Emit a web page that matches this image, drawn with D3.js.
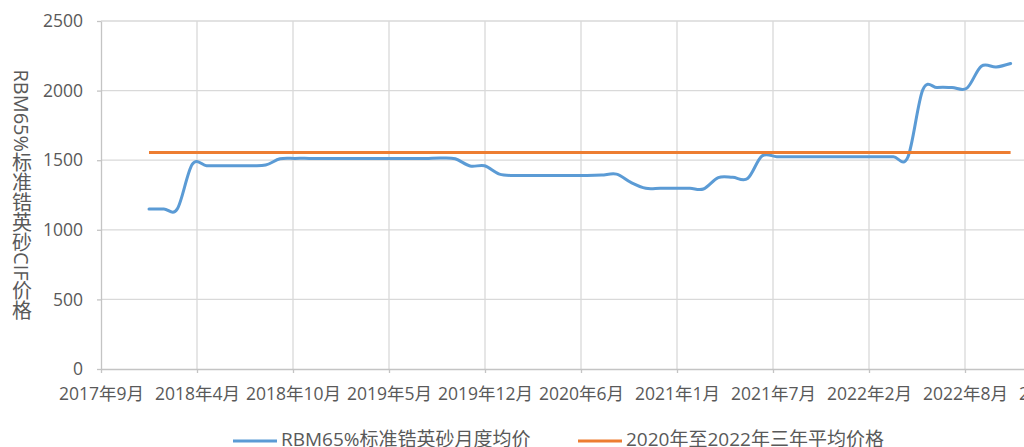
<!DOCTYPE html>
<html>
<head>
<meta charset="utf-8">
<script src="https://cdn.jsdelivr.net/npm/d3@7"></script>
<style>
  body { margin: 0; background: #fff; }
  text { font-family: "Open Sans", "Noto Sans CJK SC", sans-serif; fill: #595959; }
</style>
</head>
<body>
<div id="chart"></div>
<script>
// DATA
const months = [
  '2018-01','2018-02','2018-03','2018-04','2018-05','2018-06','2018-07','2018-08','2018-09','2018-10','2018-11','2018-12',
  '2019-01','2019-02','2019-03','2019-04','2019-05','2019-06','2019-07','2019-08','2019-09','2019-10','2019-11','2019-12',
  '2020-01','2020-02','2020-03','2020-04','2020-05','2020-06','2020-07','2020-08','2020-09','2020-10','2020-11','2020-12',
  '2021-01','2021-02','2021-03','2021-04','2021-05','2021-06','2021-07','2021-08','2021-09','2021-10','2021-11','2021-12',
  '2022-01','2022-02','2022-03','2022-04','2022-05','2022-06','2022-07','2022-08','2022-09','2022-10','2022-11','2022-12'
];
const monthlyPrice = [
  1150, 1150, 1150, 1470, 1460, 1460, 1460, 1460, 1465, 1510, 1513, 1513,
  1513, 1513, 1513, 1513, 1513, 1513, 1513, 1513, 1516, 1510, 1458, 1460,
  1400, 1390, 1390, 1390, 1390, 1390, 1390, 1393, 1400, 1340, 1298, 1298,
  1298, 1298, 1293, 1375, 1377, 1368, 1530, 1525, 1525, 1525, 1525, 1525,
  1525, 1525, 1525, 1525, 1522, 2005, 2022, 2022, 2018, 2175, 2170, 2195
];
const avgPrice = 1555;
const seriesNames = ['RBM65%标准锆英砂月度均价', '2020年至2022年三年平均价格'];
const yTicks = [0, 500, 1000, 1500, 2000, 2500];
const xTickDates = [
  '2017-09-23','2018-04-11','2018-10-28','2019-05-16','2019-12-02','2020-06-19',
  '2021-01-05','2021-07-24','2022-02-09','2022-08-28','2023-03-16'
];
const yTitle = 'RBM65%标准锆英砂CIF价格';

// GLOBALS AND CONSTANTS
const width = 1024;
const height = 447;
const margin = { top: 21, left: 101, bottom: 78 };
const colors = ['#5b9bd5', '#ed7d31'];

const parseMonth = d3.utcParse('%Y-%m');
const parseDay = d3.utcParse('%Y-%m-%d');
const data = months.map((m, i) => ({ date: parseMonth(m), value: monthlyPrice[i] }));
const ticks = xTickDates.map(parseDay);

const svg = d3.select('#chart').append('svg')
  .attr('width', width)
  .attr('height', height);

// x axis is a date axis, 200 days per major unit
const xScale = d3.scaleUtc()
  .domain([ticks[0], ticks[ticks.length - 1]])
  .range([margin.left, margin.left + 960]);

const yScale = d3.scaleLinear()
  .domain([0, 2500])
  .range([height - margin.bottom, margin.top]);

// GRID
svg.append('g')
  .selectAll('line')
  .data(yTicks.slice(1))
  .join('line')
  .attr('x1', margin.left).attr('x2', xScale.range()[1])
  .attr('y1', d => yScale(d)).attr('y2', d => yScale(d))
  .attr('stroke', '#d9d9d9').attr('stroke-width', 1.3);

svg.append('g')
  .selectAll('line')
  .data(ticks.slice(1))
  .join('line')
  .attr('x1', d => xScale(d)).attr('x2', d => xScale(d))
  .attr('y1', yScale(2500)).attr('y2', yScale(0))
  .attr('stroke', '#d9d9d9').attr('stroke-width', 1.3);

// AXES
const xAxis = svg.append('g')
  .attr('transform', `translate(0,${yScale(0)})`)
  .call(d3.axisBottom(xScale)
    .tickValues(ticks)
    .tickFormat(d3.utcFormat('%Y年%-m月'))
    .tickSize(4)
    .tickSizeOuter(0)
    .tickPadding(15));

const yAxis = svg.append('g')
  .attr('transform', `translate(${margin.left},0)`)
  .call(d3.axisLeft(yScale)
    .tickValues(yTicks)
    .tickFormat(d3.format('d'))
    .tickSize(4)
    .tickSizeOuter(0)
    .tickPadding(14));

[xAxis, yAxis].forEach(ax => {
  ax.select('.domain').attr('stroke', '#c4c4c4').attr('stroke-width', 1.3);
  ax.selectAll('.tick line').attr('stroke', '#c4c4c4').attr('stroke-width', 1.3);
  ax.selectAll('.tick text')
    .style('font-size', '17.5px')
    .style('fill', '#595959')
    .attr('font-family', null);
});

// Y TITLE (vertical text)
svg.append('text')
  .attr('x', 21)
  .attr('y', 195)
  .attr('text-anchor', 'middle')
  .style('writing-mode', 'vertical-rl')
  .style('text-orientation', 'mixed')
  .style('font-size', '20px')
  .text(yTitle);

// LINES
const line = d3.line()
  .x(d => xScale(d.date))
  .y(d => yScale(d.value))
  .curve(d3.curveCardinal.tension(0));

svg.append('path')
  .datum(data)
  .attr('d', line)
  .attr('fill', 'none')
  .attr('stroke', colors[0])
  .attr('stroke-width', 3)
  .attr('stroke-linejoin', 'round')
  .attr('stroke-linecap', 'round');

svg.append('line')
  .attr('x1', xScale(data[0].date))
  .attr('x2', xScale(data[data.length - 1].date))
  .attr('y1', yScale(avgPrice))
  .attr('y2', yScale(avgPrice))
  .attr('stroke', colors[1])
  .attr('stroke-width', 3);

// LEGEND
const legendX = [233, 578];
const legend = svg.append('g')
  .selectAll('g')
  .data(seriesNames)
  .join('g')
  .attr('transform', (d, i) => `translate(${legendX[i]},441)`);

legend.append('line')
  .attr('x1', 0).attr('x2', 44)
  .attr('stroke', (d, i) => colors[i])
  .attr('stroke-width', 3);

legend.append('text')
  .attr('x', 48)
  .attr('y', 5)
  .style('font-size', '19px')
  .text(d => d);
</script>
</body>
</html>
